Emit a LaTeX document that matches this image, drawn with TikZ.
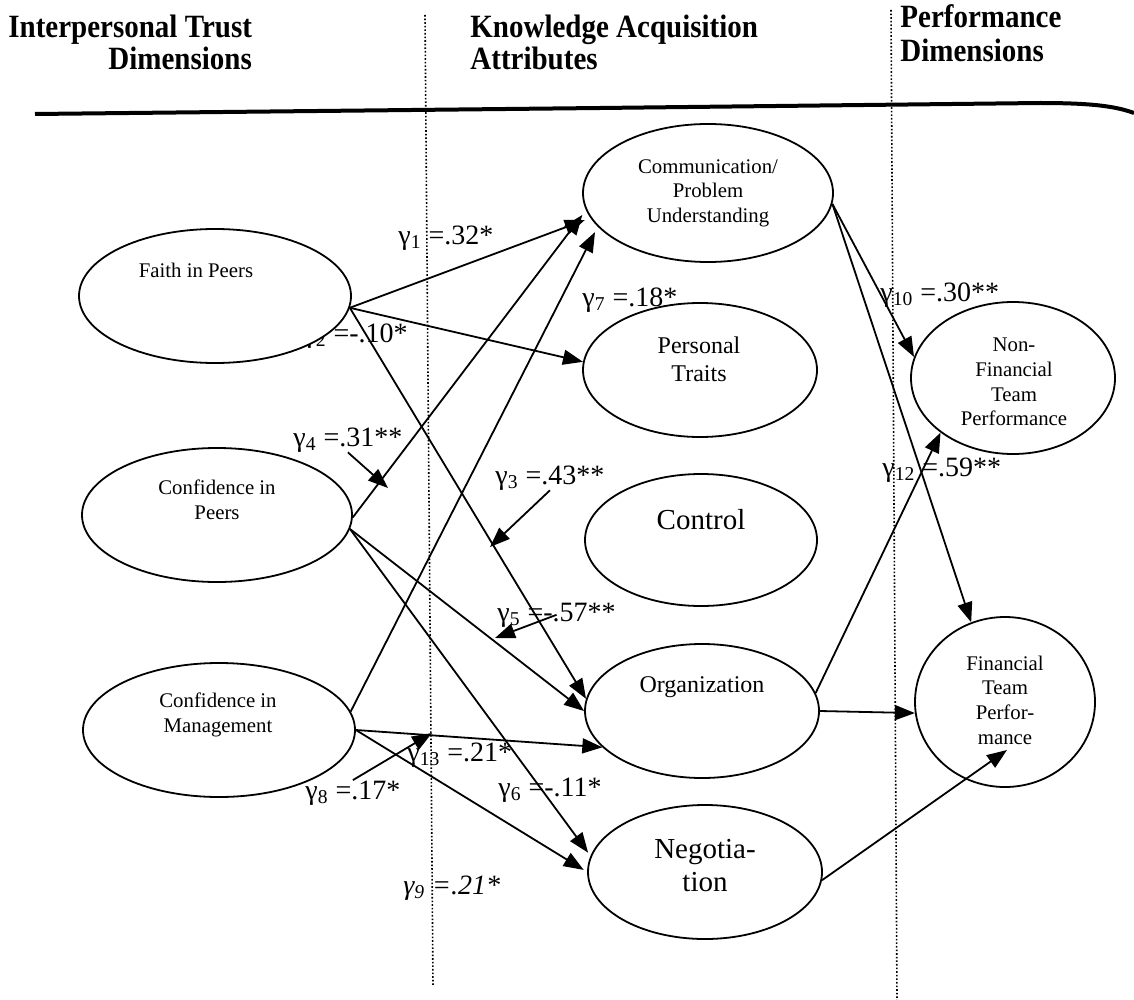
\documentclass[tikz,border=0pt]{standalone}
\usepackage{fontspec}
\setmainfont{Liberation Serif}
\usepackage{graphicx}
\usepackage{tikz}
\usetikzlibrary{shapes,arrows.meta}

\newcommand{\gcoef}[2]{γ\textsubscript{#1} =#2}
\newcommand{\hdr}[1]{\scalebox{1}[1.12]{#1}}

\begin{document}
\begin{tikzpicture}[
    x=0.5pt, y=-0.5pt,
    factor/.style={ellipse, draw, line width=0.9pt, fill=white, inner sep=0pt},
    ftext/.style={align=center, inner sep=0pt, font=\fontsize{10.4}{12.3}\selectfont},
    mtext/.style={align=center, inner sep=0pt, font=\fontsize{12}{14}\selectfont},
    btext/.style={align=center, inner sep=0pt, font=\fontsize{14.5}{16.5}\selectfont},
    coef/.style={anchor=base west, inner sep=0pt, font=\fontsize{14}{16}\selectfont},
    head/.style={anchor=base west, inner sep=0pt, font=\bfseries\fontsize{14.5}{16}\selectfont},
    arrow/.style={-{Triangle[length=10pt, width=7.5pt]}, line width=0.9pt},
    divider/.style={densely dotted, line width=0.8pt}
]
    \useasboundingbox (0,0) rectangle (1134,1000);

    % Column dividers and rule
    \draw[divider] (425,15) -- (433,985);
    \draw[divider] (891,10) -- (897,1000);
    \draw[line width=2pt] (35,114) -- (600,108) -- (1040,103) .. controls (1090,103) and (1115,106) .. (1134,113);

    % Column heads
    \node[head] (trusthd) at (8,38) {\hdr{Interpersonal Trust}};
    \node[head] (trusthd2) at (108,70) {\hdr{Dimensions}};
    \node[head] (kahd) at (470,38) {\hdr{Knowledge Acquisition}};
    \node[head] (kahd2) at (470,70) {\hdr{Attributes}};
    \node[head] (perfhd) at (900,28) {\hdr{Performance}};
    \node[head] (perfhd2) at (900,62) {\hdr{Dimensions}};

    % Coefficient partly hidden by Faith ellipse
    \node[coef] (g2) at (303,342) {\gcoef{2}{-.10*}};

    % Trust dimensions
    \node[factor, minimum width=136pt, minimum height=67pt] (faith) at (215,296) {};
    \node[factor, minimum width=135pt, minimum height=67pt] (cpeers) at (217,515) {};
    \node[factor, minimum width=136pt, minimum height=67pt] (cmgmt) at (219,730) {};

    % Knowledge acquisition attributes
    \node[factor, minimum width=125pt, minimum height=69pt] (comm) at (708,193) {};
    \node[factor, minimum width=117pt, minimum height=67pt] (traits) at (700,370) {};
    \node[factor, minimum width=116pt, minimum height=66pt] (control) at (701,540) {};
    \node[factor, minimum width=117pt, minimum height=67pt] (org) at (702,711) {};
    \node[factor, minimum width=117pt, minimum height=67pt] (neg) at (705,872) {};

    % Performance dimensions
    \node[factor, minimum width=102pt, minimum height=76pt] (nonfin) at (1013,378) {};
    \node[factor, minimum width=90pt, minimum height=85pt] (fin) at (1005,702) {};

    % Texts
    \node[ftext] (faith-t) at (196,270) {Faith in Peers};
    \node[ftext] (cpeers-t) at (217,500) {Confidence in\\Peers};
    \node[ftext] (cmgmt-t) at (218,715) {Confidence in\\Management};
    \node[ftext] (comm-t) at (708,193) {Communication/\\Problem\\Understanding};
    \node[mtext] (traits-t) at (699,359) {Personal\\Traits};
    \node[btext] (control-t) at (701,520) {Control};
    \node[mtext] (org-t) at (702,687) {Organization};
    \node[btext] (neg-t) at (705,866) {Negotia-\\tion};
    \node[ftext] (nonfin-t) at (1014,382) {Non-\\Financial\\Team\\Performance};
    \node[ftext] (fin-t) at (1005,700) {Financial\\Team\\Perfor-\\mance};

    % Paths
    \draw[arrow, shorten >=3pt] (faith.-5) -- (comm.192);
    \draw[arrow] (faith.-5) -- (traits.176);
    \draw[arrow] (faith.-5) -- (org.174);
    \draw[arrow, shorten >=3pt] (cpeers.-1) -- (comm.188);
    \draw[arrow] (cpeers.-6) -- (org.west);
    \draw[arrow, shorten >=2pt] (cpeers.-6) -- (neg.172);
    \draw[arrow, shorten >=3pt] (cmgmt.8) -- (comm.197);
    \draw[arrow] (cmgmt.east) -- (org.200);
    \draw[arrow, shorten >=2pt] (cmgmt.east) -- (neg.west);
    \draw[arrow] (comm.-5) -- (nonfin.168);
    \draw[arrow] (comm.-5) -- (fin.113);
    \draw[arrow] (org.9) -- (nonfin.217);
    \draw[arrow] (org.east) -- (fin.187);
    \draw[arrow] (neg.-4) -- ([shift={(2,48)}]fin.center);

    % Coefficients
    \node[coef] (g1) at (398,244) {\gcoef{1}{.32*}};
    \node[coef] (g7) at (582,306) {\gcoef{7}{.18*}};
    \node[coef] (g4) at (293,446) {\gcoef{4}{.31**}};
    \node[coef] (g3) at (495,484) {\gcoef{3}{.43**}};
    \node[coef] (g5) at (497,621) {\gcoef{5}{-.57**}};
    \node[coef] (g13) at (407,761) {\gcoef{13}{.21*}};
    \node[coef] (g8) at (305,799) {\gcoef{8}{.17*}};
    \node[coef] (g6) at (498,796) {\gcoef{6}{-.11*}};
    \node[coef, font=\itshape\fontsize{14}{16}\selectfont] (g9) at (403,894) {\gcoef{9}{.21*}};
    \node[coef] (g10) at (880,301) {\gcoef{10}{.30**}};
    \node[coef] (g12) at (882,476) {\gcoef{12}{.59**}};

    % Pointers to paths
    \coordinate (t4) at (388,488);
    \coordinate (t3) at (490,547);
    \coordinate (t5) at (495,638);
    \coordinate (t8) at (432,733);
    \draw[arrow] (g4.south) -- (t4);
    \draw[arrow] (g3.south) -- (t3);
    \draw[arrow] (g5.center) -- (t5);
    \draw[arrow] (g8.north) -- (t8);

\end{tikzpicture}
\end{document}
